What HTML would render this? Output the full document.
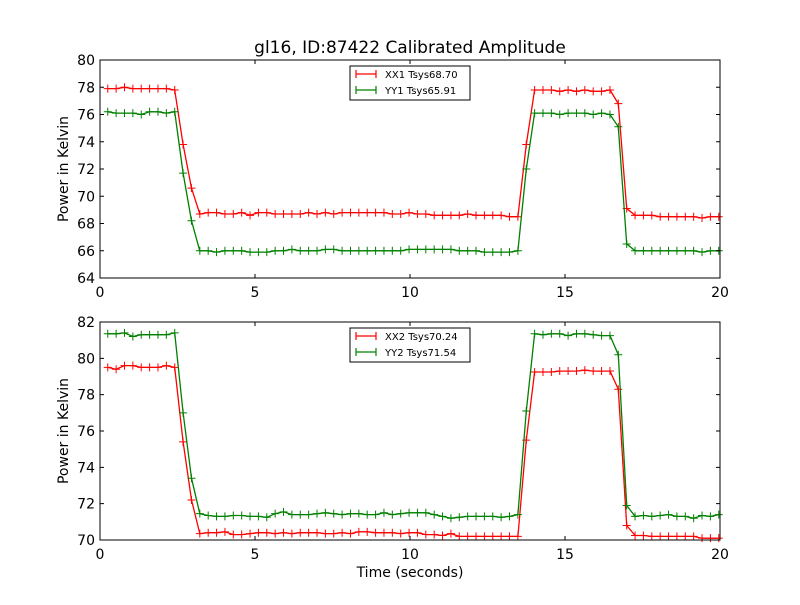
<!DOCTYPE html>
<html><head><meta charset="utf-8"><style>
body{margin:0;background:#fff}
svg text{font-family:"DejaVu Sans","Liberation Sans",sans-serif}
</style></head><body>
<svg id="chart" width="800" height="600" xmlns="http://www.w3.org/2000/svg">
<rect width="800" height="600" fill="#fff"/>
<text x="410" y="53" font-size="17" text-anchor="middle">gl16, ID:87422 Calibrated Amplitude</text>
<text x="410" y="577" font-size="14" text-anchor="middle">Time (seconds)</text>
</svg>
<script>
const times = Array.from({length:74},(_,i)=>+(0.25+0.27*i).toFixed(2));
const xx1 = [77.9,77.9,78.0,77.9,77.9,77.9,77.9,77.9,77.8,73.8,70.6,
68.7,68.8,68.8,68.7,68.7,68.8,68.6,68.8,68.8,68.7,68.7,68.7,68.7,68.8,68.7,68.8,68.7,68.8,68.8,68.8,68.8,68.8,68.8,68.7,68.7,68.8,68.7,68.7,68.6,68.6,68.6,68.6,68.7,68.6,68.6,68.6,68.6,68.5,68.5,
73.8,77.8,77.8,77.8,77.7,77.8,77.7,77.8,77.7,77.7,77.8,76.8,69.1,
68.6,68.6,68.6,68.5,68.5,68.5,68.5,68.5,68.4,68.5,68.5];
const yy1 = [76.2,76.1,76.1,76.1,76.0,76.2,76.2,76.1,76.2,71.7,68.2,
66.0,66.0,65.9,66.0,66.0,66.0,65.9,65.9,65.9,66.0,66.0,66.1,66.0,66.0,66.0,66.1,66.1,66.0,66.0,66.0,66.0,66.0,66.0,66.0,66.0,66.1,66.1,66.1,66.1,66.1,66.1,66.0,66.0,66.0,65.9,65.9,65.9,65.9,66.0,
72.0,76.1,76.1,76.1,76.0,76.1,76.1,76.1,76.0,76.1,76.0,75.1,66.5,
66.0,66.0,66.0,66.0,66.0,66.0,66.0,66.0,65.9,66.0,66.0];
const xx2 = [79.5,79.4,79.6,79.6,79.5,79.5,79.5,79.6,79.5,75.4,72.2,
70.35,70.4,70.4,70.45,70.3,70.3,70.35,70.4,70.4,70.35,70.4,70.35,70.4,70.4,70.4,70.35,70.35,70.4,70.35,70.45,70.45,70.4,70.4,70.4,70.35,70.4,70.4,70.3,70.3,70.25,70.35,70.2,70.2,70.2,70.2,70.2,70.2,70.2,70.2,
75.5,79.25,79.25,79.25,79.3,79.3,79.3,79.35,79.3,79.3,79.3,78.3,70.8,
70.25,70.25,70.2,70.2,70.2,70.2,70.2,70.2,70.1,70.1,70.1];
const yy2 = [81.35,81.35,81.4,81.2,81.3,81.3,81.3,81.3,81.4,77.0,73.4,
71.45,71.35,71.3,71.3,71.35,71.35,71.3,71.3,71.25,71.45,71.55,71.4,71.4,71.4,71.45,71.5,71.45,71.4,71.45,71.45,71.4,71.4,71.5,71.4,71.45,71.5,71.5,71.5,71.4,71.3,71.2,71.25,71.3,71.3,71.3,71.3,71.25,71.3,71.4,
77.1,81.35,81.3,81.35,81.35,81.25,81.35,81.35,81.3,81.25,81.25,80.2,71.9,
71.3,71.35,71.3,71.35,71.4,71.3,71.3,71.2,71.35,71.3,71.4];
const xTicks = [0,5,10,15,20];
const yTicksTop = [64,66,68,70,72,74,76,78,80];
const yTicksBot = [70,72,74,76,78,80,82];
const legendTop = ["XX1 Tsys68.70","YY1 Tsys65.91"];
const legendBot = ["XX2 Tsys70.24","YY2 Tsys71.54"];

const svg = document.getElementById('chart');
const NS = 'http://www.w3.org/2000/svg';
function mk(tag, attrs, parent){const e=document.createElementNS(NS,tag);for(const k in attrs)e.setAttribute(k,attrs[k]);(parent||svg).appendChild(e);return e;}

function panel(name, top, bottom, ymin, ymax, yTicks, series, legend){
  const L=100,R=720;
  const g = mk('g',{});
  
  
  const xs = v => L + (v-0)/(20-0)*(R-L);
  const ys = v => bottom - (v-ymin)/(ymax-ymin)*(bottom-top);
  series.forEach(s=>{
    const pts = s.vals.map((v,i)=>xs(times[i]).toFixed(1)+','+ys(v).toFixed(1)).join(' ');
    const pl = mk('polyline',{points:pts,fill:'none',stroke:s.color,'stroke-width':1.3},g);
    
    
    let d='';
    s.vals.forEach((v,i)=>{const x=xs(times[i]),y=ys(v);d+=`M${x-4},${y}H${x+4}M${x},${y-4}V${y+4}`;});
    const mp = mk('path',{d:d,stroke:s.color,'stroke-width':1},g);
    
    
  });
  const fr = mk('rect',{x:L,y:top,width:R-L,height:bottom-top,fill:'none',stroke:'#000','stroke-width':1},g);
  
  
  xTicks.forEach(t=>{
    const x=xs(t);
    mk('path',{d:`M${x},${bottom}v-4M${x},${top}v4`,stroke:'#000'},g);
    const tx = mk('text',{x:x,y:bottom+19,'font-size':14,'text-anchor':'middle'},g);
    tx.textContent=t;
    
    
  });
  yTicks.forEach(t=>{
    const y=ys(t);
    mk('path',{d:`M${L},${y}h4M${R},${y}h-4`,stroke:'#000'},g);
    const tx = mk('text',{x:L-5,y:y+5,'font-size':14,'text-anchor':'end'},g);
    tx.textContent=t;
    
    
  });
  const yl = mk('text',{x:0,y:0,'font-size':14,'text-anchor':'middle',transform:`translate(68,${(top+bottom)/2}) rotate(-90)`},g);
  yl.textContent='Power in Kelvin';
  
  
  const lg = mk('g',{},g);
  
  
  mk('rect',{x:350,y:top+6,width:120,height:34,fill:'#fff',stroke:'#000'},lg);
  legend.forEach((lab,i)=>{
    const y=top+14+i*16, c=series[i].color;
    mk('path',{d:`M356,${y}h20M356,${y-4}v8M376,${y-4}v8`,stroke:c,'stroke-width':1.2},lg);
    const t = mk('text',{x:385,y:y+4,'font-size':10},lg);
    t.textContent=lab;
    
    
  });
}
panel('top-panel',60,278,64,80,yTicksTop,[{name:'xx1',color:'#ff0000',vals:xx1},{name:'yy1',color:'#008000',vals:yy1}],legendTop);
panel('bottom-panel',322,540,70,82,yTicksBot,[{name:'xx2',color:'#ff0000',vals:xx2},{name:'yy2',color:'#008000',vals:yy2}],legendBot);
</script>
</body></html>
